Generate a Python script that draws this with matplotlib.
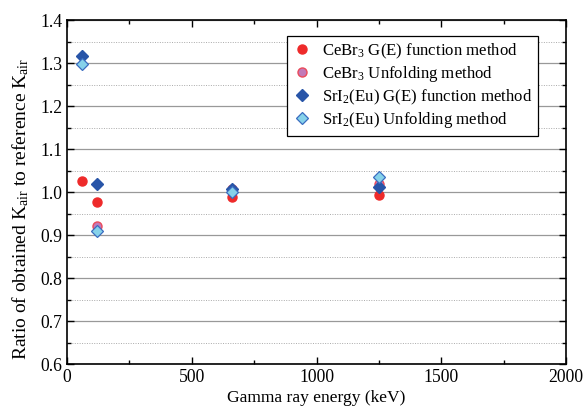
import numpy as np
import matplotlib
matplotlib.use("Agg")
import matplotlib.pyplot as plt
from matplotlib.ticker import MultipleLocator

plt.rcParams['font.family'] = ['Liberation Serif', 'DejaVu Serif']
plt.rcParams['mathtext.fontset'] = 'custom'
plt.rcParams['mathtext.rm'] = 'Liberation Serif'
plt.rcParams['mathtext.it'] = 'Liberation Serif:italic'

energies = [59.5, 122, 662, 1250]
cebr3_ge = [1.026, 0.977, 0.989, 0.993]
cebr3_unf = [np.nan, 0.922, 1.008, 1.018]
sri2_ge = [1.317, 1.018, 1.007, 1.012]
sri2_unf = [1.299, 0.910, 1.000, 1.036]

labels = [r'CeBr$_3$ G(E) function method',
          r'CeBr$_3$ Unfolding method',
          r'SrI$_2$(Eu) G(E) function method',
          r'SrI$_2$(Eu) Unfolding method']

fig = plt.figure(figsize=(5.83, 4.12), dpi=100)
ax = fig.add_axes([0.115, 0.1165, 0.856, 0.8345])

ax.plot(energies, cebr3_ge, 'o', ls='none', ms=6.5, mfc='#ee2a2a', mec='#ee2a2a', label=labels[0], zorder=3)
ax.plot(energies, cebr3_unf, 'o', ls='none', ms=6.5, mfc='#c27ab8', mec='#ea4a5a', mew=1.0, label=labels[1], zorder=3)
ax.plot(energies, sri2_ge, 'D', ls='none', ms=6, mfc='#2855a8', mec='#2855a8', label=labels[2], zorder=3)
ax.plot(energies, sri2_unf, 'D', ls='none', ms=6, mfc='#86d2ea', mec='#3a6cc0', mew=0.9, label=labels[3], zorder=3)

ax.set_xlim(0, 2000)
ax.set_ylim(0.6, 1.4)
ax.xaxis.set_major_locator(MultipleLocator(500))
ax.xaxis.set_minor_locator(MultipleLocator(250))
ax.yaxis.set_major_locator(MultipleLocator(0.1))
ax.yaxis.set_minor_locator(MultipleLocator(0.05))
ax.yaxis.set_major_formatter(matplotlib.ticker.FormatStrFormatter('%.1f'))

ax.grid(axis='y', which='major', color='#999999', lw=0.9, ls='-', zorder=0)
ax.grid(axis='y', which='minor', color='#aaaaaa', lw=0.7, ls=(0, (1, 1.5)), zorder=0)
ax.set_axisbelow(True)

ax.tick_params(which='both', direction='in', top=True, right=True, labelsize=12.7, width=1.0, colors='black')
ax.tick_params(which='major', length=5)
ax.tick_params(which='minor', length=3)
for s in ax.spines.values():
    s.set_linewidth(1.2)

ax.set_xlabel('Gamma ray energy (keV)', fontsize=12.6, labelpad=3)
ax.set_ylabel(r'Ratio of obtained K$_{\rm air}$ to reference K$_{\rm air}$', fontsize=14)
ax.yaxis.set_label_coords(-0.072, 0.45)

leg = ax.legend(loc='upper right', bbox_to_anchor=(0.944, 0.953), borderaxespad=0,
                fontsize=12.1, frameon=True,
                fancybox=False, edgecolor='black', framealpha=1, borderpad=0.32,
                handletextpad=0.6, labelspacing=0.2, handlelength=1.2)
leg.get_frame().set_linewidth(0.9)

fig.savefig('out.png', dpi=100)
